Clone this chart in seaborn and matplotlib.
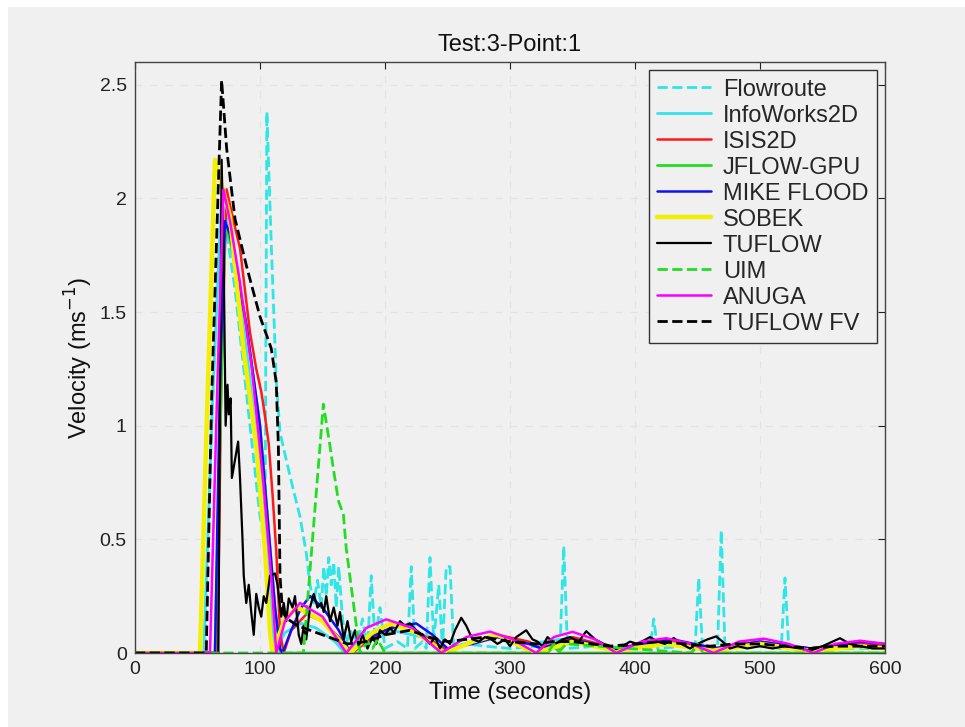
import matplotlib
matplotlib.use("Agg")
import matplotlib.pyplot as plt
import seaborn as sns
import numpy as np
import pandas as pd
from matplotlib.patches import Rectangle

# ---------------- data ----------------
flowroute_t = [0, 56, 60, 66, 72, 80, 90, 100, 104, 105.5, 109, 113, 116, 121, 127, 132, 137, 140,
               143, 146, 149, 151, 153, 155, 157, 159, 161, 163, 166, 169, 172, 178, 182, 186, 189,
               192, 196, 200, 210, 218, 221, 224, 230, 233, 236, 239, 243, 246, 249, 252, 255, 265,
               280, 300, 320, 340, 343, 346, 370, 400, 412, 415, 418, 440, 448, 451, 454, 466, 469,
               472, 500, 517, 520, 523, 560, 600]
flowroute_v = [0, 0, 0.8, 1.7, 1.9, 1.6, 1.1, 0.6, 0.5, 2.38, 1.8, 1.2, 0.97, 0.85, 0.71, 0.6, 0.44, 0.3,
               0.22, 0.32, 0.2, 0.38, 0.25, 0.42, 0.3, 0.4, 0.2, 0.38, 0.15, 0.04, 0.1, 0.05, 0.15, 0.02, 0.34,
               0.05, 0.2, 0.02, 0.05, 0.02, 0.38, 0.02, 0.05, 0.02, 0.42, 0.05, 0.3, 0.02, 0.38, 0.38, 0.02, 0.04,
               0.03, 0.02, 0.03, 0.02, 0.47, 0.02, 0.03, 0.02, 0.02, 0.15, 0.02, 0.03, 0.02, 0.33, 0.02, 0.02, 0.54,
               0.02, 0.03, 0.02, 0.33, 0.02, 0.02, 0.02]

infoworks_t = [0, 55, 62, 69, 72, 80, 90, 100, 106, 111, 120, 133, 145, 160, 168, 180, 205, 230, 250,
               270, 290, 315, 340, 360, 385, 420, 460, 500, 540, 580, 600]
infoworks_v = [0, 0, 1.1, 1.98, 1.95, 1.7, 1.3, 0.8, 0.4, 0, 0.09, 0.13, 0.11, 0.05, 0, 0.05, 0.1, 0.07, 0.02,
               0.05, 0.07, 0.04, 0.06, 0.05, 0.02, 0.05, 0.02, 0.05, 0.02, 0.04, 0.03]

isis_t = [0, 66, 69, 73.3, 78, 84, 92, 97, 101, 103, 107, 110, 113, 116, 119, 125, 137, 150, 163, 174,
          190, 208, 230, 250, 270, 290, 315, 325, 350, 385, 425, 462, 500, 540, 580, 600]
isis_v = [0, 0, 1.2, 2.04, 1.92, 1.78, 1.41, 1.25, 1.15, 1.08, 0.92, 0.7, 0.45, 0.09, 0, 0.1, 0.17, 0.14,
          0.07, 0, 0.07, 0.12, 0.08, 0.01, 0.05, 0.08, 0.05, 0.02, 0.07, 0.02, 0.06, 0.02, 0.05, 0.02, 0.04, 0.03]

jflow_t = [56, 64, 72, 76, 89, 100, 106, 112, 116, 130, 200, 330, 335, 340, 445, 450, 455, 600]
jflow_v = [0, 0, 1.88, 1.82, 1.44, 1.0, 0.6, 0.2, 0, 0, 0, 0, 0.03, 0, 0, 0.03, 0, 0]

mike_t = [0, 64, 68, 72, 76, 89, 100, 106, 112, 116, 118, 125, 133, 140, 150, 163, 172, 185, 200, 212,
          225, 238, 250, 270, 290, 315, 325, 350, 385, 430, 465, 500, 540, 580, 600]
mike_v = [0, 0, 1.2, 1.9, 1.84, 1.45, 1.0, 0.6, 0.2, 0.02, 0, 0.1, 0.2, 0.25, 0.2, 0.1, 0, 0.06, 0.1, 0.12,
          0.13, 0.08, 0.02, 0.04, 0.07, 0.04, 0.02, 0.06, 0.02, 0.06, 0.02, 0.05, 0.02, 0.05, 0.04]

sobek_t = [0, 52, 57.3, 64, 76, 86.7, 97.3, 104, 108, 110, 120, 130, 150, 172, 190, 205, 225, 248, 270,
           290, 320, 350, 385, 425, 462, 500, 540, 580, 600]
sobek_v = [0, 0, 1.0, 2.17, 1.92, 1.34, 0.9, 0.45, 0.09, 0, 0.15, 0.2, 0.14, 0, 0.09, 0.13, 0.09, 0, 0.05,
           0.08, 0, 0.05, 0.01, 0.04, 0.01, 0.04, 0.01, 0.03, 0.02]

tuflow_t = [0, 66.7, 69.3, 71, 72.5, 74, 75, 76.5, 77.5, 80, 82.5, 84, 86, 87, 89, 91, 93, 95, 97, 99, 101,
            103, 105, 108, 112, 114, 117, 119, 121, 123, 126, 128, 131, 133, 135, 137, 140, 143, 146, 149,
            151, 153, 156, 159, 162, 164, 167, 170, 173, 176, 179, 182, 186, 190, 193, 196, 200, 204, 207,
            212, 216, 220, 225, 230, 236, 240, 244, 248, 252, 256, 261, 265, 270, 275, 280, 285, 290, 296,
            300, 305, 313, 318, 322, 326, 330, 336, 342, 348, 355, 361, 368, 375, 381, 385, 390, 396, 402,
            412, 418, 424, 431, 437, 444, 450, 458, 465, 470, 476, 482, 490, 500, 510, 520, 532, 540, 550,
            558, 564, 572, 580, 590, 600]
tuflow_v = [0, 0, 2.17, 1.7, 1.0, 1.18, 1.05, 1.12, 0.77, 0.85, 0.93, 0.77, 0.5, 0.34, 0.22, 0.3, 0.18, 0.08,
            0.26, 0.2, 0.16, 0.25, 0.22, 0.34, 0.35, 0.3, 0.16, 0.22, 0.14, 0.24, 0.2, 0.25, 0.08, 0.04, 0.12,
            0.06, 0.2, 0.26, 0.2, 0.22, 0.18, 0.25, 0.14, 0.2, 0.12, 0.18, 0.06, 0.14, 0.05, 0.1, 0.03, 0.08,
            0.02, 0.07, 0.04, 0.1, 0.08, 0.11, 0.09, 0.14, 0.12, 0.13, 0.1, 0.08, 0.04, 0.07, 0.02, 0.06, 0.04,
            0.1, 0.155, 0.12, 0.06, 0.05, 0.07, 0.06, 0.04, 0.06, 0.03, 0.07, 0.1, 0.06, 0.05, 0.03, 0.07, 0.04,
            0.06, 0.07, 0.05, 0.096, 0.06, 0.04, 0.03, 0.017, 0.03, 0.05, 0.04, 0.07, 0.05, 0.04, 0.066, 0.04,
            0.02, 0.04, 0.06, 0.073, 0.05, 0.02, 0.03, 0.02, 0.03, 0.02, 0.03, 0.02, 0.01, 0.03, 0.05, 0.065,
            0.04, 0.03, 0.02, 0.02]

uim_t = [0, 134.7, 150.7, 156, 158.7, 162.7, 166.7, 169, 174.7, 180, 186, 190, 194, 200, 240, 330, 335,
         340, 345, 445, 450, 455, 600]
uim_v = [0, 0, 1.095, 0.91, 0.81, 0.67, 0.61, 0.46, 0.22, 0, 0.05, 0.02, 0.06, 0, 0, 0, 0.04, 0.01, 0.04,
         0, 0.04, 0, 0]

anuga_t = [0, 60, 66, 70.7, 76, 84, 93.3, 102.7, 109.3, 113, 120, 132, 150, 169, 185, 201, 222, 245,
           265, 284, 302, 321, 335, 350, 368, 385, 405, 425, 445, 463, 483, 503, 523, 543, 560, 580, 600]
anuga_v = [0, 0, 1.2, 2.04, 1.9, 1.63, 1.26, 0.75, 0.31, 0, 0.14, 0.22, 0.16, 0, 0.11, 0.148, 0.11, 0,
           0.07, 0.094, 0.06, 0, 0.07, 0.093, 0.06, 0, 0.05, 0.065, 0.04, 0, 0.05, 0.063, 0.04, 0, 0.04,
           0.054, 0.04]

tuflowfv_t = [0, 57, 61.3, 69.3, 73.3, 80, 89.3, 100, 109, 113, 114.7, 116, 118, 122, 130, 140, 155, 170,
              185, 200, 220, 235, 250, 265, 280, 300, 320, 335, 350, 365, 380, 400, 420, 440, 460, 480, 500,
              520, 540, 560, 580, 600]
tuflowfv_v = [0, 0, 1.12, 2.52, 2.22, 1.91, 1.70, 1.48, 1.34, 1.19, 0.91, 0.34, 0.18, 0.15, 0.12, 0.1, 0.07,
              0.04, 0.05, 0.08, 0.1, 0.07, 0.05, 0.06, 0.07, 0.05, 0.04, 0.05, 0.05, 0.04, 0.03, 0.04, 0.05,
              0.04, 0.03, 0.04, 0.04, 0.03, 0.02, 0.03, 0.03, 0.03]

labels = ["Flowroute", "InfoWorks2D", "ISIS2D", "JFLOW-GPU", "MIKE FLOOD", "SOBEK",
          "TUFLOW", "UIM", "ANUGA", "TUFLOW FV"]
series_t = [flowroute_t, infoworks_t, isis_t, jflow_t, mike_t, sobek_t, tuflow_t, uim_t, anuga_t, tuflowfv_t]
series_v = [flowroute_v, infoworks_v, isis_v, jflow_v, mike_v, sobek_v, tuflow_v, uim_v, anuga_v, tuflowfv_v]

colors = ["#2ee6e6", "#33e3f0", "#ff1a1a", "#22dd22", "#1010ee", "#f2f000",
          "#000000", "#22dd22", "#ff00ff", "#000000"]
styles = ["--", "-", "-", "-", "-", "-", "-", "--", "-", "--"]
widths = [2.0, 2.0, 1.8, 2.0, 1.8, 3.2, 1.6, 2.0, 1.8, 2.0]

x_ticks = [0, 100, 200, 300, 400, 500, 600]
y_ticks = [0, 0.5, 1, 1.5, 2, 2.5]
y_tick_labels = ["0", "0.5", "1", "1.5", "2", "2.5"]

# ---------------- plot ----------------
sns.set_theme(style="white")
plt.rcParams["font.family"] = ["Liberation Sans", "DejaVu Sans"]

bg = "#f0f0f0"
fig = plt.figure(figsize=(9.65, 7.27), dpi=100, facecolor=bg)
ax = fig.add_axes([135 / 965, 74 / 727, 750 / 965, 591 / 727])
ax.set_facecolor(bg)

# white strips on top/left edges like the reference scan
fig.patches.append(Rectangle((0, 1 - 7 / 727), 1, 7 / 727, transform=fig.transFigure,
                             facecolor="white", edgecolor="none", zorder=-1))
fig.patches.append(Rectangle((0, 0), 8 / 965, 1, transform=fig.transFigure,
                             facecolor="white", edgecolor="none", zorder=-1))

for t, v, lab, c, ls, lw in zip(series_t, series_v, labels, colors, styles, widths):
    df = pd.DataFrame({"t": t, "v": v})
    sns.lineplot(data=df, x="t", y="v", ax=ax, color=c, linestyle=ls, linewidth=lw,
                 label=lab, estimator=None, sort=True)

ax.set_xlim(0, 600)
ax.set_ylim(0, 2.6)
ax.set_xticks(x_ticks)
ax.set_xticklabels([str(x) for x in x_ticks])
ax.set_yticks(y_ticks)
ax.set_yticklabels(y_tick_labels)
ax.tick_params(direction="in", top=True, right=True, length=5, width=0.8,
               labelsize=14, colors="#222222", pad=6)
ax.grid(True, color="#e3e3e3", linestyle=(0, (6, 6)), linewidth=0.9)
for s in ax.spines.values():
    s.set_color("#444444")
    s.set_linewidth(1.0)

ax.set_xlabel("Time (seconds)", fontsize=17, color="#111111", labelpad=3)
ax.set_ylabel("Velocity (ms$^{-1}$)", fontsize=17, color="#111111", labelpad=3)
ax.set_title("Test:3-Point:1", fontsize=17, color="#111111", pad=8)

leg = ax.legend(loc="upper right", fontsize=17, frameon=True, fancybox=False,
                borderaxespad=0.35, labelspacing=0.17, handlelength=2.3,
                handletextpad=0.5, borderpad=0.35)
leg.get_frame().set_edgecolor("#333333")
leg.get_frame().set_facecolor(bg)
leg.get_frame().set_alpha(1)
leg.get_frame().set_linewidth(1.0)

fig.savefig("out.png", dpi=100, facecolor=bg)
